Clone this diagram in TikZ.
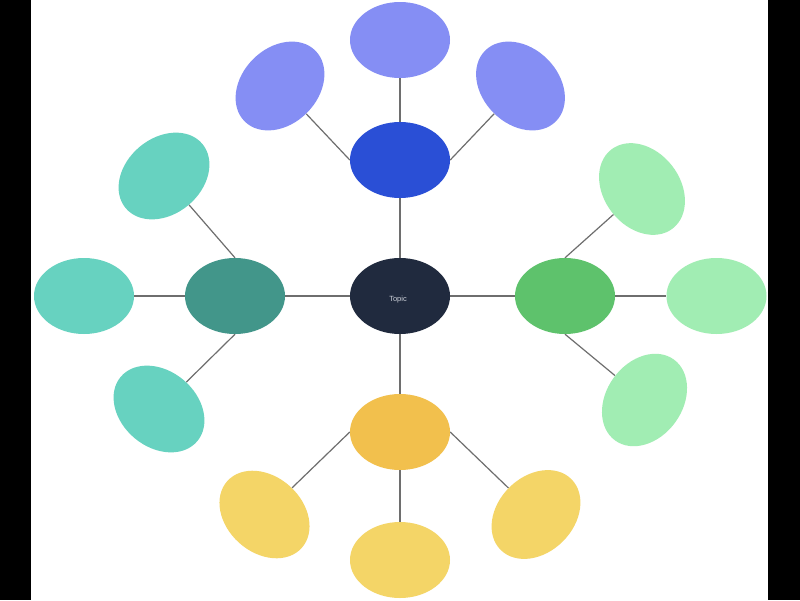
\documentclass[tikz,border=0pt]{standalone}
\usepackage{fontspec}
\setmainfont{Liberation Sans}
\usetikzlibrary{shapes.geometric,backgrounds}
\definecolor{cnavy}{HTML}{202A3E}
\definecolor{ctext}{HTML}{CDD1D9}
\definecolor{bhub}{HTML}{2A4FD6}
\definecolor{bsat}{HTML}{858EF4}
\definecolor{thub}{HTML}{42968A}
\definecolor{tsat}{HTML}{67D2C0}
\definecolor{ghub}{HTML}{5EC26C}
\definecolor{gsat}{HTML}{A1EDB3}
\definecolor{yhub}{HTML}{F2C04D}
\definecolor{ysat}{HTML}{F4D567}
\definecolor{cline}{HTML}{6E6E6E}
\tikzset{
  blob/.style={ellipse, minimum width=100pt, minimum height=76pt, inner sep=0pt, draw=none},
  link/.style={draw=cline, line width=1.2pt},
}
\begin{document}
\begin{tikzpicture}[x=1pt,y=-1pt]
\useasboundingbox (0,0) rectangle (800,600);
\begin{scope}[on background layer]
\fill[white] (0,0) rectangle (800,600);
\fill[black] (0,0) rectangle (31,600);
\fill[black] (768,0) rectangle (800,600);
\end{scope}
% centre
\node[blob, fill=cnavy] (c) at (400,296) {};
\node[text=ctext, font=\fontsize{7.5}{9}\selectfont, inner sep=0pt] (lbl) at (398,299.5) {Topic};
% hubs
\node[blob, fill=bhub] (hb) at (400,160) {};
\node[blob, fill=thub] (ht) at (235,296) {};
\node[blob, fill=ghub] (hg) at (565,296) {};
\node[blob, fill=yhub] (hy) at (400,432) {};
% blue satellites
\node[blob, fill=bsat, rotate=45] (b1) at (280,86) {};
\node[blob, fill=bsat] (b2) at (400,40) {};
\node[blob, fill=bsat, rotate=-45] (b3) at (520.5,86) {};
% teal satellites
\node[blob, fill=tsat, rotate=40] (t1) at (164,176) {};
\node[blob, fill=tsat] (t2) at (84,296) {};
\node[blob, fill=tsat, rotate=-40] (t3) at (159,409) {};
% green satellites
\node[blob, fill=gsat, rotate=-52] (g1) at (642,189) {};
\node[blob, fill=gsat] (g2) at (716.5,296) {};
\node[blob, fill=gsat, rotate=54] (g3) at (644.5,400) {};
% yellow satellites
\node[blob, fill=ysat, rotate=-42] (y1) at (264.5,514.5) {};
\node[blob, fill=ysat] (y2) at (400,560) {};
\node[blob, fill=ysat, rotate=45] (y3) at (536,514.5) {};
\begin{scope}[on background layer]
\draw[link] (c.north) -- (hb.south);
\draw[link] (c.west) -- (ht.east);
\draw[link] (c.east) -- (hg.west);
\draw[link] (c.south) -- (hy.north);
\draw[link] (hb.west) -- (b1);
\draw[link] (hb.north) -- (b2.south);
\draw[link] (hb.east) -- (b3);
\draw[link] (ht.north) -- (t1);
\draw[link] (ht.west) -- (t2.east);
\draw[link] (ht.south) -- (t3);
\draw[link] (hg.north) -- (g1);
\draw[link] (hg.east) -- (g2.west);
\draw[link] (hg.south) -- (g3);
\draw[link] (hy.west) -- (y1);
\draw[link] (hy.south) -- (y2.north);
\draw[link] (hy.east) -- (y3);
\end{scope}
\end{tikzpicture}
\end{document}
